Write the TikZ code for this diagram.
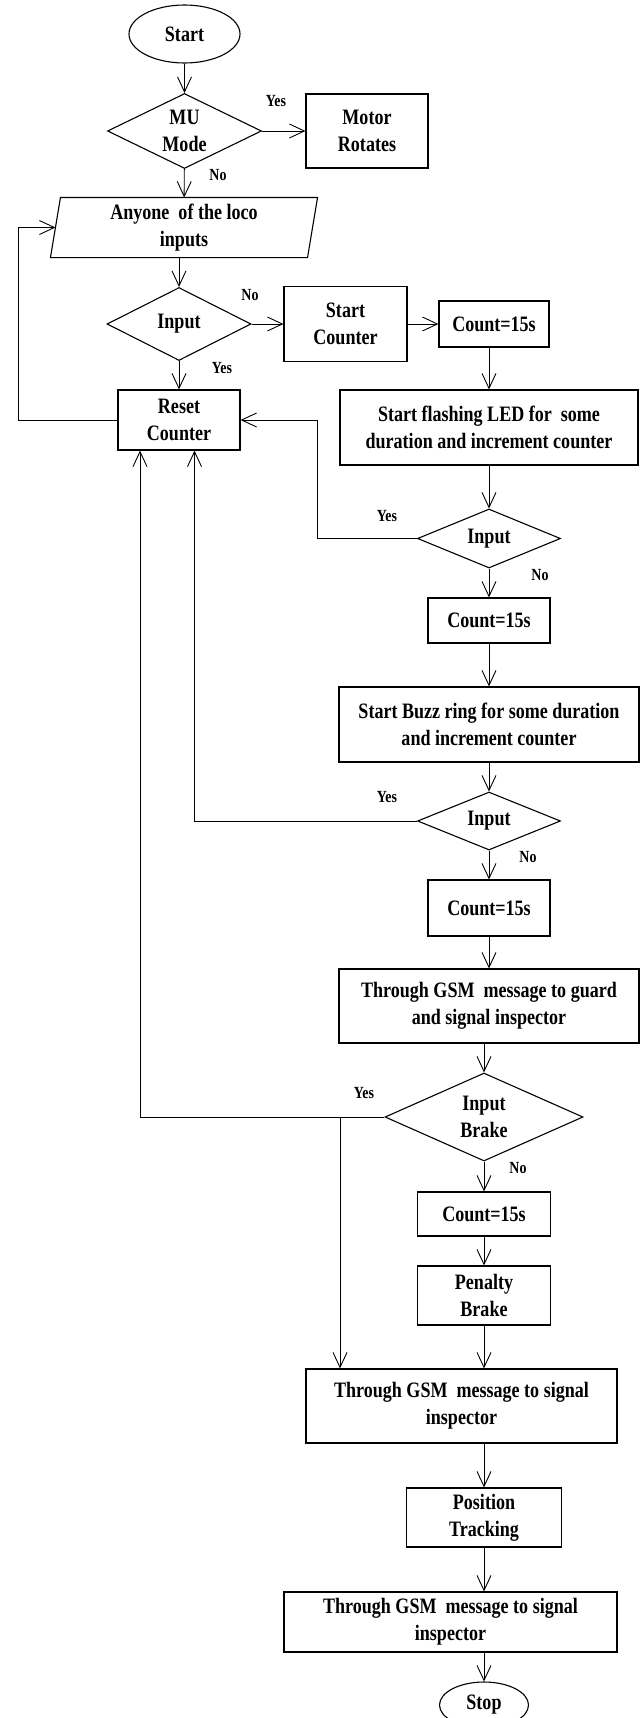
\documentclass[tikz,border=0pt]{standalone}
\usepackage{fontspec}
\setmainfont{Liberation Serif}[FakeStretch=0.82]
\usetikzlibrary{shapes.geometric,arrows.meta}
\begin{document}
\begin{tikzpicture}[x=1pt,y=-1pt,
  base/.style={draw, line width=1.1pt, inner sep=0pt, align=center, font=\bfseries\fontsize{22}{27}\selectfont},
  proc/.style={base, rectangle},
  dec/.style={base, diamond, aspect=2.2},
  term/.style={base, ellipse},
  lbl/.style={font=\bfseries\fontsize{17}{20}\selectfont, inner sep=0pt},
  arr/.style={line width=0.9pt, -{Straight Barb[length=15pt,width=14pt,line width=0.9pt]}},
  ln/.style={line width=0.9pt}]
\useasboundingbox (0,0) rectangle (640,1718);
\fill[white] (0,0) rectangle (640,1718);

% nodes
\node[term, minimum width=111pt, minimum height=58pt] (start) at (184.5,34) {Start};
\node[dec, minimum width=154pt, minimum height=75pt] (mu) at (184.5,131) {MU\\Mode};
\node[proc, minimum width=122pt, minimum height=74pt] (motor) at (367,131) {Motor\\Rotates};
\node[base, draw=none, minimum width=256pt, minimum height=59pt] (par) at (184,227.5) {Anyone\ \ of the loco\\inputs};
\draw[line width=1.1pt] ([xshift=5pt]par.north west) -- ([xshift=5pt]par.north east) -- ([xshift=-5pt]par.south east) -- ([xshift=-5pt]par.south west) -- cycle;
\node[dec, minimum width=144pt, minimum height=73pt] (in1) at (179,324) {Input};
\node[proc, minimum width=123pt, minimum height=75pt] (sc) at (345.5,324) {Start\\Counter};
\node[proc, minimum width=110pt, minimum height=46pt] (c1) at (494,324) {Count=15s};
\node[proc, minimum width=122pt, minimum height=60pt] (reset) at (179,420) {Reset\\Counter};
\node[proc, minimum width=298pt, minimum height=75pt] (led) at (489,427.5) {Start flashing LED for\ \ some\\duration and increment counter};
\node[dec, minimum width=143pt, minimum height=59pt] (in2) at (489,538.5) {Input};
\node[proc, minimum width=122pt, minimum height=45pt] (c2) at (489,620.5) {Count=15s};
\node[proc, minimum width=300pt, minimum height=75pt] (buzz) at (489,724.5) {Start Buzz ring for some duration\\and increment counter};
\node[dec, minimum width=143pt, minimum height=58pt] (in3) at (489,821) {Input};
\node[proc, minimum width=122pt, minimum height=56pt] (c3) at (489,908) {Count=15s};
\node[proc, minimum width=300pt, minimum height=74pt] (gsm1) at (489,1006) {Through GSM\ \ message to guard\\and signal inspector};
\node[dec, minimum width=198pt, minimum height=88pt] (in4) at (484,1117) {Input\\Brake};
\node[proc, minimum width=133pt, minimum height=44pt] (c4) at (484,1214) {Count=15s};
\node[proc, minimum width=133pt, minimum height=59pt] (pen) at (484,1295.5) {Penalty\\Brake};
\node[proc, minimum width=311pt, minimum height=74pt] (gsm2) at (461.5,1406) {Through GSM\ \ message to signal\\inspector};
\node[proc, minimum width=155pt, minimum height=59pt] (pos) at (484,1517.5) {Position\\Tracking};
\node[proc, minimum width=333pt, minimum height=60pt] (gsm3) at (450.5,1622) {Through GSM\ \ message to signal\\inspector};
\node[term, minimum width=89pt, minimum height=46pt] (stop) at (484,1705) {Stop};

% labels
\node[lbl] (l1) at (276,101) {Yes};
\node[lbl] (l2) at (218,175) {No};
\node[lbl] (l3) at (250,295) {No};
\node[lbl] (l4) at (222,368) {Yes};
\node[lbl] (l5) at (387,516) {Yes};
\node[lbl] (l6) at (540,575) {No};
\node[lbl] (l7) at (387,797) {Yes};
\node[lbl] (l8) at (528,857) {No};
\node[lbl] (l9) at (364,1093) {Yes};
\node[lbl] (l10) at (518,1168) {No};

% helper coordinates
\coordinate (lx) at (18,0);
\coordinate (x2) at (317,0);
\coordinate (x3) at (194.5,0);
\coordinate (x4) at (140,0);
\coordinate (x5) at (340,0);

% connectors
\draw[arr] (start) -- (mu);
\draw[arr] (mu) -- (motor);
\draw[arr] (mu) -- (par);
\draw[arr] (par.south -| in1.north) -- (in1.north);
\draw[arr] (in1.east) -- (in1.east -| sc.west);
\draw[arr] (sc.east) -- (sc.east -| c1.west);
\draw[arr] (c1.south -| led.north) -- (led.north);
\draw[arr] (in1) -- (reset);
\draw[arr] (reset.west) -- (reset.west -| lx) |- (par.west);
\draw[arr] (led) -- (in2);
\draw[arr] (in2.west) -- (in2.west -| x2) |- (reset.east);
\draw[arr] (in2) -- (c2);
\draw[arr] (c2) -- (buzz);
\draw[arr] (buzz) -- (in3);
\draw[arr] (in3.west) -| (x3 |- reset.south);
\draw[arr] (in3) -- (c3);
\draw[arr] (c3) -- (gsm1);
\draw[arr] (gsm1.south -| in4.north) -- (in4.north);
\draw[arr] (in4.west) -| (x4 |- reset.south);
\draw[arr] (x5 |- in4.west) -- (x5 |- gsm2.north);
\draw[arr] (in4) -- (c4);
\draw[arr] (c4) -- (pen);
\draw[arr] (pen.south) -- (pen.south |- gsm2.north);
\draw[arr] (gsm2.south -| pos.north) -- (pos.north);
\draw[arr] (pos.south) -- (pos.south |- gsm3.north);
\draw[arr] (gsm3.south -| stop.north) -- (stop.north);
\end{tikzpicture}
\end{document}
